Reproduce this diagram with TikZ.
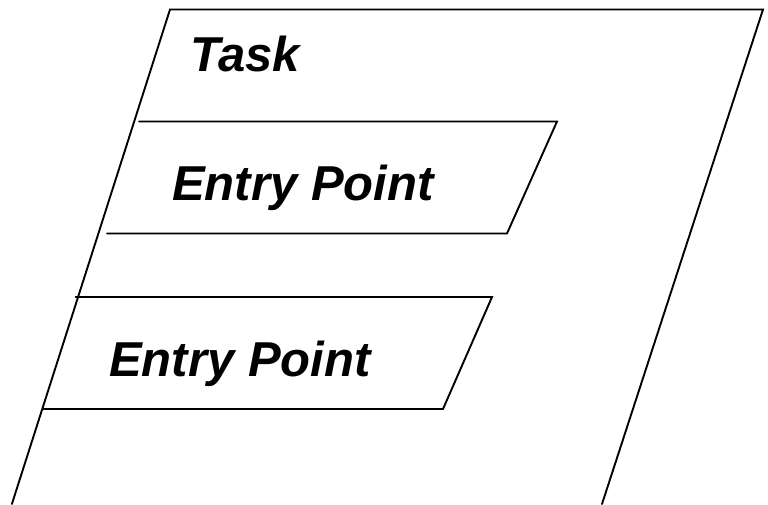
\documentclass[tikz,border=0pt]{standalone}
\usepackage{fontspec}
\setmainfont{Liberation Sans}
\usetikzlibrary{positioning}
\tikzset{
  outline/.style={line width=1.9pt, line cap=round, line join=miter},
  boxtext/.style={font=\bfseries\itshape\fontsize{49}{49}\selectfont, inner sep=0pt, anchor=base west}
}

\begin{document}
\begin{tikzpicture}[x=1pt,y=-1pt]
\useasboundingbox (0,0) rectangle (768,504);
\clip (0,0) rectangle (768,504);
% task outline (runs off the bottom)
\draw[outline] (11.9,504) -- (170,9.5) -- (763,9.5) -- (602,504);
\node[boxtext] (task) at (190,71.5) {Task};
% entry points
\draw[outline] (139,121.5) -- (557,121.5) -- (507,233.5) -- (107,233.5);
\node[boxtext] (entryA) at (172,200) {Entry Point};
\draw[outline] (75.5,297) -- (492,297) -- (443,409) -- (43,409);
\node[boxtext] (entryB) at (109,376) {Entry Point};
\end{tikzpicture}
\end{document}
